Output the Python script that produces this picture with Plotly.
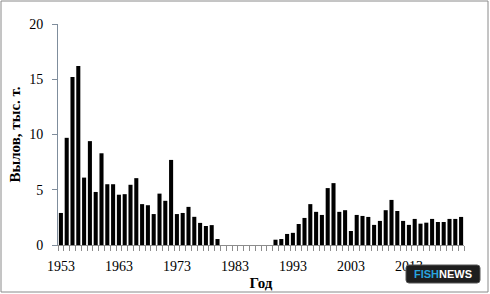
import plotly.graph_objects as go

years = list(range(1953, 2023))
catch = [2.9, 9.7, 15.2, 16.2, 6.1, 9.4, 4.8, 8.3, 5.5, 5.5,
         4.55, 4.6, 5.45, 6.05, 3.7, 3.6, 2.8, 4.65, 4.0, 7.7,
         2.8, 2.9, 3.45, 2.55, 2.0, 1.72, 1.8, 0.54, 0, 0,
         0, 0, 0, 0, 0, 0, 0, 0.48, 0.54, 1.0,
         1.1, 1.9, 2.45, 3.7, 3.0, 2.72, 5.15, 5.6, 3.0, 3.15,
         1.27, 2.72, 2.63, 2.54, 1.82, 2.18, 3.15, 4.08, 3.08, 2.18,
         1.82, 2.36, 1.93, 2.02, 2.36, 2.08, 2.08, 2.36, 2.36, 2.54]
xticks = [1953, 1963, 1973, 1983, 1993, 2003, 2013]
yticks = [0, 5, 10, 15, 20]

W, H = 490, 294
L, R, T, B = 58, 26, 24, 49
pw, ph = W - L - R, H - T - B

def px(x):
    return (x - L) / pw

def py(y):
    return (H - B - y) / ph

fig = go.Figure(go.Bar(x=years, y=catch, marker=dict(color="black", line=dict(width=0)),
                       width=0.7))

font = "Liberation Serif, Times New Roman, serif"
fig.update_layout(
    width=W, height=H,
    margin=dict(l=L, r=R, t=T, b=B),
    paper_bgcolor="white", plot_bgcolor="white",
    showlegend=False,
    font=dict(family=font, size=14, color="black"),
    xaxis=dict(
        range=[1952.5, 2022.5], automargin=False,
        tickvals=xticks, ticks="", showgrid=False, zeroline=False,
        showline=True, linecolor="#8c8c8c", linewidth=1,
        tickfont=dict(family=font, size=14), ticklabelstandoff=8,
        minor=dict(tick0=1952.5, dtick=1, ticks="outside", ticklen=5,
                   tickcolor="#8c8c8c", showgrid=False),
        title=dict(text="<b>Год</b>", font=dict(family=font, size=15), standoff=4),
    ),
    yaxis=dict(
        range=[0, 20], tickvals=yticks, ticks="outside", ticklen=5, automargin=False,
        tickcolor="#7f8d9c", showgrid=False, zeroline=False,
        showline=True, linecolor="#7f8d9c", linewidth=1,
        tickfont=dict(family=font, size=14), ticklabelstandoff=6,
        title=dict(text="<b>Вылов, тыс. т.</b>", font=dict(family=font, size=15), standoff=4),
    ),
)

# outer frame
fig.add_shape(type="rect", xref="paper", yref="paper",
              x0=px(1), x1=px(488), y0=py(292), y1=py(1),
              line=dict(color="#8a8a8a", width=1), fillcolor="rgba(0,0,0,0)", layer="below")

# watermark badge
x0, x1, y0, y1 = px(406), px(480), py(283), py(265)
rx = 3 / pw
ry = 3 / ph
path = (f"M {x0+rx},{y0} L {x1-rx},{y0} Q {x1},{y0} {x1},{y0+ry} L {x1},{y1-ry} "
        f"Q {x1},{y1} {x1-rx},{y1} L {x0+rx},{y1} Q {x0},{y1} {x0},{y1-ry} "
        f"L {x0},{y0+ry} Q {x0},{y0} {x0+rx},{y0} Z")
fig.add_shape(type="path", xref="paper", yref="paper", path=path,
              fillcolor="#1e1e1e", line=dict(color="#555555", width=1))
fig.add_annotation(xref="paper", yref="paper", x=px(443), y=py(274),
                   xanchor="center", yanchor="middle", showarrow=False,
                   text="<b><span style='color:#29a3dc'>FISH</span>NEWS</b>",
                   font=dict(family="Liberation Sans, Arial, sans-serif", size=11, color="white"))

fig.write_html("out.html")
